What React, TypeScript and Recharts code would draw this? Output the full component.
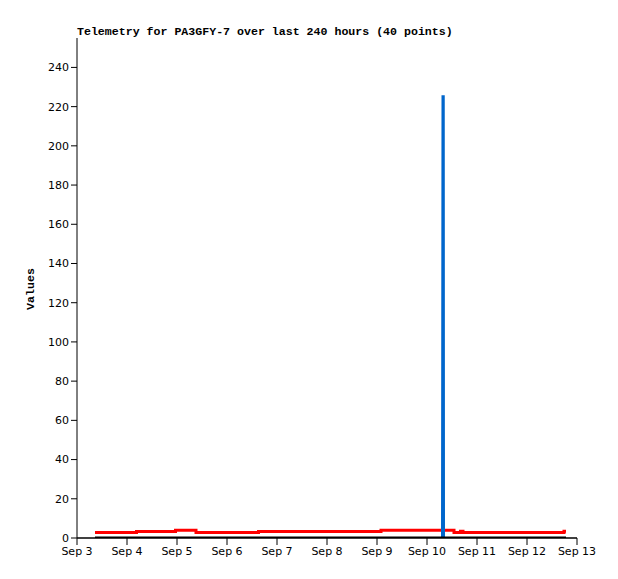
import { LineChart, Line, XAxis, YAxis } from "recharts";

// x = day of September (fractional), y = value
const redTimes = [3.36, 4.19, 4.97, 5.38, 6.63, 9.08, 10.54, 10.67, 10.69, 10.72, 12.74, 12.78];
const redValues = [2.8, 3.3, 3.9, 2.8, 3.3, 3.9, 2.8, 3.5, 3.5, 2.8, 3.5, 3.5];

const blueTimes = [10.3, 10.31, 10.315, 10.32, 10.325, 10.33];
const blueValues = [0, 0, 112, 225, 225, 0];

const blackTimes = [3.36, 12.78];
const blackValues = [0, 0];

const xTicks = [3, 4, 5, 6, 7, 8, 9, 10, 11, 12, 13];
const yTicks = [0, 20, 40, 60, 80, 100, 120, 140, 160, 180, 200, 220, 240];

const zip = (ts: number[], vs: number[]) => ts.map((t, i) => ({ t, v: vs[i] }));

const tickStyle = { fontFamily: "DejaVu Sans", fontSize: 11, fill: "#000" };
const boldMono = { fontFamily: "Liberation Mono", fontWeight: "bold" as const, fontSize: 11.6, color: "#000", whiteSpace: "nowrap" as const };

export default function App() {
  const red = zip(redTimes, redValues);
  const blue = zip(blueTimes, blueValues);
  const black = zip(blackTimes, blackValues);

  return (
    <div style={{ position: "absolute", left: 0, top: 0, width: 618, height: 579, background: "#fff" }}>
      <div style={{ ...boldMono, position: "absolute", left: 77, top: 25 }}>
        Telemetry for PA3GFY-7 over last 240 hours (40 points)
      </div>
      <div
        style={{
          ...boldMono, position: "absolute", left: 31, top: 289, lineHeight: "14px",
          transform: "translate(-50%, -50%) rotate(-90deg)",
        }}
      >
        Values
      </div>
      <LineChart width={618} height={579} margin={{ top: 38, right: 41, bottom: 11, left: 17 }}>
        <XAxis
          xAxisId="b" dataKey="t" type="number" domain={[3, 13]} ticks={xTicks} allowDataOverflow
          tickFormatter={(v) => `Sep ${v}`} tick={tickStyle} tickSize={7} height={30}
          axisLine={{ stroke: "#000", strokeWidth: 1.5 }} tickLine={{ stroke: "#000" }}
        />
        <XAxis xAxisId="top" orientation="top" type="number" domain={[3, 13]} tick={false} tickLine={false} height={0} axisLine={{ stroke: "#000" }} />
        <YAxis
          yAxisId="l" type="number" domain={[0, 255]} ticks={yTicks} allowDataOverflow tick={tickStyle} tickSize={6} width={60}
          axisLine={{ stroke: "#000" }} tickLine={{ stroke: "#000" }}
        />
        <YAxis yAxisId="r" orientation="right" domain={[0, 255]} tick={false} tickLine={false} width={0} axisLine={{ stroke: "#555" }} />
        <Line xAxisId="b" yAxisId="l" data={red} dataKey="v" type="stepAfter" stroke="#ff0000" strokeWidth={3} dot={false} isAnimationActive={false} />
        <Line xAxisId="b" yAxisId="l" data={blue} dataKey="v" type="linear" stroke="#0066cc" strokeWidth={3} dot={false} isAnimationActive={false} />
        <Line xAxisId="b" yAxisId="l" data={black} dataKey="v" type="linear" stroke="#000" strokeWidth={3} dot={false} isAnimationActive={false} />
      </LineChart>
    </div>
  );
}
